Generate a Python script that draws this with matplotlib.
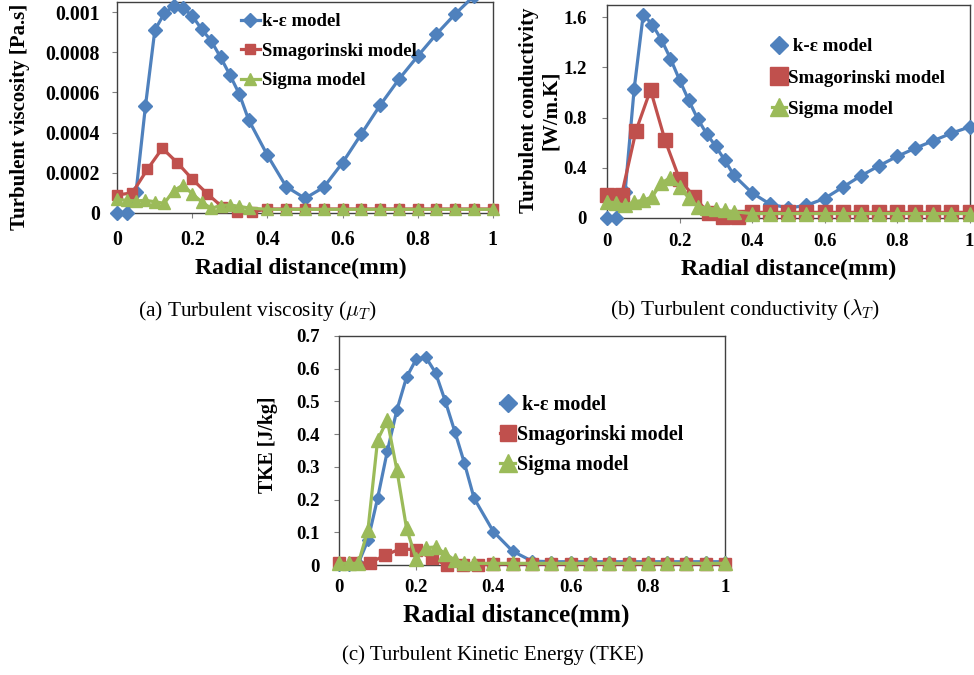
import matplotlib
matplotlib.use('Agg')
import matplotlib.pyplot as plt

plt.rcParams['font.family'] = ['Liberation Serif', 'DejaVu Serif']
plt.rcParams['mathtext.fontset'] = 'cm'

# ---------------- data ----------------
x_ke = [0, 0.025, 0.05, 0.075, 0.1, 0.125, 0.15, 0.175, 0.2, 0.225, 0.25, 0.275, 0.3, 0.325, 0.35,
        0.4, 0.45, 0.5, 0.55, 0.6, 0.65, 0.7, 0.75, 0.8, 0.85, 0.9, 0.95, 1.0]
x_sigma = [0, 0.025, 0.05, 0.075, 0.1, 0.125, 0.15, 0.175, 0.2, 0.225, 0.25, 0.275, 0.3, 0.325, 0.35,
           0.4, 0.45, 0.5, 0.55, 0.6, 0.65, 0.7, 0.75, 0.8, 0.85, 0.9, 0.95, 1.0]
x_smag = [0, 0.04, 0.08, 0.12, 0.16, 0.2, 0.24, 0.28, 0.32, 0.36, 0.4,
          0.45, 0.5, 0.55, 0.6, 0.65, 0.7, 0.75, 0.8, 0.85, 0.9, 0.95, 1.0]

# (a) turbulent viscosity [Pa.s]
visc_ke = [0, 0, 0.000105, 0.000532, 0.00091, 0.000993, 0.00103, 0.00102, 0.00098, 0.000914,
           0.000857, 0.000775, 0.000687, 0.000592, 0.000463,
           0.000287, 0.000131, 0.000073, 0.000128, 0.00025, 0.000393, 0.000536, 0.000665,
           0.00078, 0.00089, 0.00099, 0.00108, 0.00117]
visc_smag = [0.00009, 0.0001, 0.000217, 0.000322, 0.00025, 0.000168, 0.000095, 0.00003,
             0.000007, 0.000006, 0.00002,
             0.00002, 0.00002, 0.00002, 0.00002, 0.00002, 0.00002, 0.00002, 0.00002,
             0.00002, 0.00002, 0.00002, 0.00002]
visc_sigma = [0.000068, 0.000063, 0.00006, 0.000063, 0.000056, 0.000048, 0.000111, 0.000139,
              0.000095, 0.000055, 0.000023, 0.000037, 0.00004, 0.000033, 0.000025,
              0.000018, 0.000018, 0.000018, 0.000018, 0.000018, 0.000018, 0.000018,
              0.000018, 0.000018, 0.000018, 0.000018, 0.000018, 0.000018]

# (b) turbulent conductivity [W/m.K]
cond_ke = [0, 0, 0.21, 1.03, 1.62, 1.54, 1.42, 1.27, 1.10, 0.94, 0.79, 0.67, 0.57, 0.46, 0.34,
           0.20, 0.11, 0.08, 0.10, 0.155, 0.245, 0.335, 0.415, 0.49, 0.555, 0.615, 0.675, 0.725]
cond_smag = [0.18, 0.18, 0.695, 1.02, 0.62, 0.31, 0.17, 0.04, 0.01, 0.01, 0.045,
             0.045, 0.045, 0.045, 0.045, 0.045, 0.045, 0.045, 0.045, 0.045, 0.045, 0.045, 0.045]
cond_sigma = [0.13, 0.12, 0.10, 0.13, 0.14, 0.17, 0.28, 0.32, 0.25, 0.16, 0.09, 0.08, 0.07, 0.06, 0.05,
              0.035, 0.035, 0.035, 0.035, 0.035, 0.035, 0.035, 0.035, 0.035, 0.035, 0.035, 0.035, 0.035]

# (c) turbulent kinetic energy [J/kg]
tke_ke = [0, 0, 0.005, 0.076, 0.204, 0.347, 0.474, 0.574, 0.629, 0.635, 0.588, 0.502, 0.408, 0.311, 0.204,
          0.102, 0.042, 0.012, 0.01, 0.01, 0.01, 0.01, 0.01, 0.01, 0.01, 0.01, 0.01, 0.01]
tke_smag = [0.005, 0.005, 0.007, 0.03, 0.05, 0.046, 0.02, 0.0, 0.0, 0.0, 0.003,
            0.003, 0.003, 0.003, 0.003, 0.003, 0.003, 0.003, 0.003, 0.003, 0.003, 0.003, 0.003]
tke_sigma = [0.005, 0.005, 0.005, 0.107, 0.382, 0.443, 0.29, 0.112, 0.018, 0.053, 0.055, 0.035, 0.015,
             0.005, 0.005,
             0.005, 0.005, 0.005, 0.005, 0.005, 0.005, 0.005, 0.005, 0.005, 0.005, 0.005, 0.005, 0.005]

series_names = [' k-\u03b5 model', 'Smagorinski model', 'Sigma model']
x_ticks = [0, 0.2, 0.4, 0.6, 0.8, 1.0]
x_ticklabels = ['0', '0.2', '0.4', '0.6', '0.8', '1']
visc_ticks = [0, 0.0002, 0.0004, 0.0006, 0.0008, 0.001]
visc_ticklabels = ['0', '0.0002', '0.0004', '0.0006', '0.0008', '0.001']
cond_ticks = [0, 0.4, 0.8, 1.2, 1.6]
cond_ticklabels = ['0', '0.4', '0.8', '1.2', '1.6']
tke_ticks = [0, 0.1, 0.2, 0.3, 0.4, 0.5, 0.6, 0.7]
tke_ticklabels = ['0', '0.1', '0.2', '0.3', '0.4', '0.5', '0.6', '0.7']

BLUE = '#4F81BD'
RED = '#C0504D'
GREEN = '#9BBB59'
SPINE = '#404040'

W, H = 974, 675
fig = plt.figure(figsize=(W / 100, H / 100), dpi=100)


def px_rect(left, right, top, bottom):
    return [left / W, 1 - bottom / H, (right - left) / W, (bottom - top) / H]


def make_panel(rect, ylim, yticks, yticklabels, ke, smag, sigma, ylabel,
               ylab_pos, xlab_pos, tick_fs, lab_fs, ylab_fs, xpad, ypad,
               ms, leg_anchor, leg_fs, leg_scale, leg_hlen, leg_pad, leg_spacing, labels):
    ax = fig.add_axes(rect)
    l1, = ax.plot(x_ke, ke, color=BLUE, lw=2.3, marker='D', ms=ms[0], clip_on=False, zorder=3)
    l2, = ax.plot(x_smag, smag, color=RED, lw=2.3, marker='s', ms=ms[1], clip_on=False, zorder=4)
    l3, = ax.plot(x_sigma, sigma, color=GREEN, lw=2.3, marker='^', ms=ms[2], clip_on=False, zorder=5)
    ax.set_xlim(0, 1)
    ax.set_ylim(*ylim)
    ax.set_xticks(x_ticks)
    ax.set_xticklabels(x_ticklabels)
    ax.set_yticks(yticks)
    ax.set_yticklabels(yticklabels)
    for s in ax.spines.values():
        s.set_color(SPINE)
        s.set_linewidth(1.0)
    ax.tick_params(axis='both', direction='out', length=3.6, width=0.8, color='#808080',
                   labelsize=tick_fs)
    ax.tick_params(axis='x', pad=xpad)
    ax.tick_params(axis='y', pad=ypad)
    for t in ax.get_xticklabels() + ax.get_yticklabels():
        t.set_fontweight('bold')
    ax.set_xlabel('Radial distance(mm)', fontsize=lab_fs, fontweight='bold', va='center')
    ax.xaxis.set_label_coords(*xlab_pos)
    ax.set_ylabel(ylabel, fontsize=ylab_fs, fontweight='bold', va='center', linespacing=1.15)
    ax.yaxis.set_label_coords(*ylab_pos)
    ax.legend([l1, l2, l3], labels, loc='upper left',
              bbox_to_anchor=(leg_anchor[0] / W, 1 - leg_anchor[1] / H),
              bbox_transform=fig.transFigure, frameon=False,
              prop={'weight': 'bold', 'size': leg_fs}, markerscale=leg_scale,
              handlelength=leg_hlen, handletextpad=leg_pad, labelspacing=leg_spacing,
              borderpad=0, borderaxespad=0)
    return ax


# (a)
make_panel(px_rect(117.3, 492.7, 2.0, 213.0), (0, 0.00105), visc_ticks, visc_ticklabels,
           visc_ke, visc_smag, visc_sigma, 'Turbulent viscosity [Pa.s]',
           (-0.259, 0.455), (0.489, -0.261), 14.3, 17, 15, 8.6, 8.9,
           (7.0, 7.2, 8.5), (241, 13), 13.5, 1.0, 1.0, 0.1, 0.66,
           ['k-\u03b5 model', 'Smagorinski model', 'Sigma model'])

# (b)
make_panel(px_rect(607.0, 969.5, 4.5, 218.0), (0, 1.7), cond_ticks, cond_ticklabels,
           cond_ke, cond_smag, cond_sigma, 'Turbulent conductivity\n[W/m.K]',
           (-0.185, 0.506), (0.502, -0.239), 13.5, 17.4, 15, 7.0, 10.8,
           (6.8, 9.4, 9.4), (772, 38), 13.7, 1.35, 0.75, 0.1, 0.74,
           series_names)

# (c)
make_panel(px_rect(339.0, 725.0, 336.0, 565.0), (0, 0.7), tke_ticks, tke_ticklabels,
           tke_ke, tke_smag, tke_sigma, 'TKE [J/kg]',
           (-0.184, 0.524), (0.46, -0.218), 13.5, 18.3, 14.3, 6.5, 10.0,
           (6.5, 8.6, 9.5), (500, 395), 14.5, 1.35, 0.75, 0.1, 0.5,
           series_names)

# captions
fig.text(257 / W, 1 - 311 / H, r'(a) Turbulent viscosity ($\mu_T$)', fontsize=15.4,
         ha='center', va='center')
fig.text(745 / W, 1 - 310 / H, r'(b) Turbulent conductivity ($\lambda_T$)', fontsize=15.4,
         ha='center', va='center')
fig.text(493 / W, 1 - 655 / H, '(c) Turbulent Kinetic Energy (TKE)', fontsize=15,
         ha='center', va='center')

fig.savefig('out.png', dpi=100, facecolor='white')
